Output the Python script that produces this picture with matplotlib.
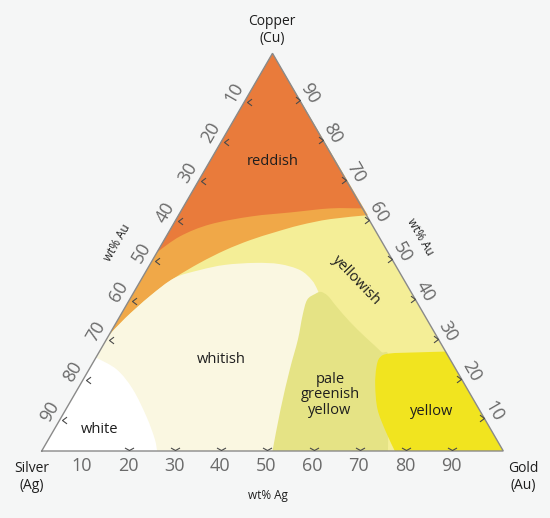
import matplotlib
matplotlib.use("Agg")
import matplotlib.pyplot as plt
from matplotlib.patches import PathPatch
from matplotlib.path import Path
import numpy as np

# ---- data: region boundaries as (wt% Au, wt% Cu) compositions ----
reddish_lower = [(0, 50), (3, 54), (8, 57), (16, 59), (24, 60), (32, 61), (39, 61)]
orange_lower = [(0, 29), (1.4, 33.4), (4, 39), (7, 43.5), (10.6, 47.3), (14.5, 50.5),
                (18.6, 53), (23, 55), (27.6, 56.8), (33.3, 58.3), (41, 59.3)]
whitish_upper = [(0, 29), (1.4, 33.4), (4, 39), (7, 43.5), (11.5, 45.5), (16.3, 46.8),
                 (22.6, 47.3), (28, 47), (33.2, 45.5), (37, 43), (39.5, 40.5), (41.5, 38),
                 (45, 33), (50, 20), (60, 0)]
pale_green = [(50, 0), (46.5, 10.5), (43.5, 20.5), (41.5, 28), (39.5, 34), (38.5, 38),
              (39.5, 39.5), (40.5, 40), (42.5, 39), (45.5, 36.5), (50.5, 32.5), (56, 28.5),
              (61, 25), (64, 22.5), (75, 0)]
yellow_region = [(76.5, 0), (72, 5), (67.5, 10.5), (64, 16.5), (62, 21), (61.5, 23.5),
                 (63, 24.5), (69, 24.8), (75, 25)]
white_region = [(0, 23.5), (6, 20.5), (12, 15.5), (18.5, 8.5), (23, 3), (25, 0)]

region_names = ["reddish", "whitish", "pale\ngreenish\nyellow", "yellow", "white", "yellowish"]
region_label_pos = [(13.7, 72.7), (27.4, 22.9), (55.4, 14.1), (79.5, 9.9), (9.9, 5.3), (46.7, 43.0)]

bottom_labels = [10, 20, 30, 40, 50, 60, 70, 80, 90]
bottom_ticks = [20, 30, 40, 50, 60, 70, 80, 90]
left_labels = [10, 20, 30, 40, 50, 60, 70, 80, 90]     # placed at Cu = 100 - value
right_labels = [90, 80, 70, 60, 50, 40, 30, 20, 10]    # placed at Cu = value

# ---- colours ----
C_BG = "#F5F6F6"
C_RED = "#E97B3B"
C_ORANGE = "#F0A848"
C_YELLOWISH = "#F4EE97"
C_WHITISH = "#FAF7E1"
C_PALE = "#E5E385"
C_YELLOW = "#F1E41F"
C_WHITE = "#FFFFFF"
C_EDGE = "#8a8a8a"
C_NUM = "#6a6a6a"
C_TXT = "#1e1e1e"

FONT = "Open Sans"


def to_xy(pts):
    a = np.array(pts, dtype=float)
    au, cu = a[:, 0], a[:, 1]
    return np.column_stack([au / 100 + cu / 200, cu / 100])


def region_path(curve, straight):
    """Smooth (Catmull-Rom -> Bezier) boundary through `curve`,
    then straight segments through `straight` back to the start."""
    p = to_xy(curve)
    n = len(p)
    ext = np.vstack([p[0], p, p[-1]])
    verts = [p[0]]
    codes = [Path.MOVETO]
    for i in range(n - 1):
        p0, p1, p2, p3 = ext[i], ext[i + 1], ext[i + 2], ext[i + 3]
        c1 = p1 + (p2 - p0) / 6.0
        c2 = p2 - (p3 - p1) / 6.0
        verts += [c1, c2, p2]
        codes += [Path.CURVE4] * 3
    if straight:
        for q in to_xy(straight):
            verts.append(q)
            codes.append(Path.LINETO)
    verts.append(p[0])
    codes.append(Path.CLOSEPOLY)
    return Path(np.array(verts), codes)


W, H = 550, 518
fig = plt.figure(figsize=(W / 100, H / 100), dpi=100, facecolor=C_BG)
ax = fig.add_axes([41.7 / W, (H - 451) / H, 461.6 / W, 397.7 / H])
ax.set_xlim(0, 1)
ax.set_ylim(0, 1)
ax.axis("off")

tri = [(0, 0), (100, 0), (0, 100)]
tri_path = Path(np.vstack([to_xy(tri), to_xy([(0, 0)])]),
                [Path.MOVETO, Path.LINETO, Path.LINETO, Path.CLOSEPOLY])
ax.add_patch(PathPatch(tri_path, facecolor=C_YELLOWISH, edgecolor="none"))

layers = [
    (orange_lower, [(0, 100)], C_ORANGE),
    (reddish_lower, [(0, 100)], C_RED),
    (whitish_upper, [(0, 0)], C_WHITISH),
    (pale_green, [], C_PALE),
    (yellow_region, [(100, 0)], C_YELLOW),
    (white_region, [(0, 0)], C_WHITE),
]
for curve, straight, col in layers:
    ax.add_patch(PathPatch(region_path(curve, straight), facecolor=col, edgecolor="none"))

# triangle outline
t = to_xy(tri + [(0, 0)])
ax.plot(t[:, 0], t[:, 1], color=C_EDGE, lw=1.0, solid_joinstyle="miter", clip_on=False)

# chevron tick marks
v_mark = Path([(-1, 0.55), (0, 0), (1, 0.55)], [Path.MOVETO, Path.LINETO, Path.LINETO])
l_mark = Path([(1, 0.75), (0, 0), (1, -0.75)], [Path.MOVETO, Path.LINETO, Path.LINETO])
r_mark = Path([(-1, 0.75), (0, 0), (-1, -0.75)], [Path.MOVETO, Path.LINETO, Path.LINETO])
mk = dict(linestyle="none", markersize=6.5, markeredgewidth=0.8,
          markeredgecolor="#4a4a4a", markerfacecolor="none", clip_on=False)

bt = to_xy([(v - 1.2, 0.2) for v in bottom_ticks])
ax.plot(bt[:, 0], bt[:, 1], marker=v_mark, **mk)
lt = to_xy([(0.6, 100 - v - 2.2) for v in left_labels])
ax.plot(lt[:, 0], lt[:, 1], marker=l_mark, **mk)
rt = to_xy([(100 - (v - 1.8), v - 1.8) for v in right_labels])
ax.plot(rt[:, 0], rt[:, 1], marker=r_mark, **mk)

# numeric labels
num = dict(fontsize=13, color=C_NUM, family=FONT, ha="center", va="center",
           textcoords="offset pixels", annotation_clip=False)
for v in bottom_labels:
    p = to_xy([(v, 0)])[0]
    ax.annotate(str(v), p, xytext=(-6, -15), **num)
for v in left_labels:
    p = to_xy([(0, 100 - v)])[0]
    ax.annotate(str(v), p, xytext=(-15, 0), rotation=60, **num)
for v in right_labels:
    p = to_xy([(100 - v, v)])[0]
    ax.annotate(str(v), p, xytext=(14, 0), rotation=-60, **num)

# region labels
for name, (au, cu) in zip(region_names, region_label_pos):
    p = to_xy([(au, cu)])[0]
    rot = -46 if name == "yellowish" else 0
    ax.text(p[0], p[1], name, fontsize=10.5, color=C_TXT, family=FONT, ha="center",
            va="center", rotation=rot, linespacing=1.05)


# outer labels (figure pixel coords)
def ftext(x, y, s, **kw):
    fig.text(x / W, 1 - y / H, s, ha="center", va="center", family=FONT,
             color=C_TXT, **kw)


ftext(272, 30, "Copper\n(Cu)", fontsize=10, linespacing=1.25)
ftext(32, 477, "Silver\n(Ag)", fontsize=10, linespacing=1.25)
ftext(523, 477, "Gold\n(Au)", fontsize=10, linespacing=1.25)
ftext(268, 495, "wt% Ag", fontsize=8.5)
ftext(117, 243, "wt% Au", fontsize=8.5, rotation=60)
ftext(420, 237, "wt% Au", fontsize=8.5, rotation=-60)

fig.savefig("out.png", dpi=100, facecolor=C_BG)
